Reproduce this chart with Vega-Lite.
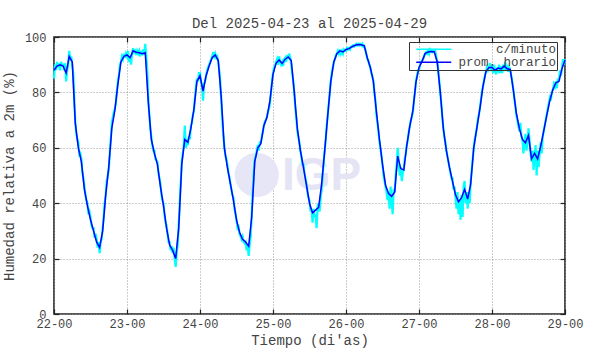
{
"$schema":"https://vega.github.io/schema/vega-lite/v6.json",
"width":511,"height":277,"autosize":"none",
"padding":{"left":54,"top":37,"right":25,"bottom":40},
"background":"white",
"title":{"text":"Del 2025-04-23 al 2025-04-29","font":"Liberation Mono","fontSize":14,"fontWeight":"normal","color":"#444","offset":10,"dy":21,"baseline":"alphabetic","frame":"group"},
"config":{"view":{"stroke":"#222","strokeWidth":1.6},"font":"Liberation Mono"},
"datasets":{
"logo":[{"t":"2025-04-24T18:40Z","v":50.2}],
"logotxt":[{"t":"2025-04-25T16:00Z","v":50}],
"hora":[
{"t":"2025-04-22T00:00Z","v":88},{"t":"2025-04-22T01:00Z","v":89.5},{"t":"2025-04-22T02:00Z","v":90},{"t":"2025-04-22T03:00Z","v":89.5},{"t":"2025-04-22T04:00Z","v":87},{"t":"2025-04-22T05:00Z","v":93},{"t":"2025-04-22T06:00Z","v":91},{"t":"2025-04-22T07:00Z","v":69},{"t":"2025-04-22T08:00Z","v":60},{"t":"2025-04-22T09:00Z","v":55},{"t":"2025-04-22T10:00Z","v":45},{"t":"2025-04-22T11:00Z","v":39},{"t":"2025-04-22T12:00Z","v":34},{"t":"2025-04-22T13:00Z","v":30},{"t":"2025-04-22T14:00Z","v":26},{"t":"2025-04-22T15:00Z","v":24},{"t":"2025-04-22T16:00Z","v":30},{"t":"2025-04-22T17:00Z","v":43},{"t":"2025-04-22T18:00Z","v":53},{"t":"2025-04-22T19:00Z","v":67},{"t":"2025-04-22T20:00Z","v":73.5},{"t":"2025-04-22T21:00Z","v":83},{"t":"2025-04-22T22:00Z","v":91},{"t":"2025-04-22T23:00Z","v":93},
{"t":"2025-04-23T00:00Z","v":93.5},{"t":"2025-04-23T01:00Z","v":92.5},{"t":"2025-04-23T02:00Z","v":95},{"t":"2025-04-23T03:00Z","v":94.5},{"t":"2025-04-23T04:00Z","v":94.3},{"t":"2025-04-23T05:00Z","v":94},{"t":"2025-04-23T06:00Z","v":94.3},{"t":"2025-04-23T07:00Z","v":76.5},{"t":"2025-04-23T08:00Z","v":63},{"t":"2025-04-23T09:00Z","v":58},{"t":"2025-04-23T10:00Z","v":54},{"t":"2025-04-23T11:00Z","v":46},{"t":"2025-04-23T12:00Z","v":39},{"t":"2025-04-23T13:00Z","v":31},{"t":"2025-04-23T14:00Z","v":25},{"t":"2025-04-23T15:00Z","v":23},{"t":"2025-04-23T16:00Z","v":20},{"t":"2025-04-23T17:00Z","v":31},{"t":"2025-04-23T18:00Z","v":54},{"t":"2025-04-23T19:00Z","v":63},{"t":"2025-04-23T20:00Z","v":62},{"t":"2025-04-23T21:00Z","v":67},{"t":"2025-04-23T22:00Z","v":74},{"t":"2025-04-23T23:00Z","v":84},
{"t":"2025-04-24T00:00Z","v":86},{"t":"2025-04-24T01:00Z","v":80.5},{"t":"2025-04-24T02:00Z","v":86},{"t":"2025-04-24T03:00Z","v":89.5},{"t":"2025-04-24T04:00Z","v":92.5},{"t":"2025-04-24T05:00Z","v":93.5},{"t":"2025-04-24T06:00Z","v":91.5},{"t":"2025-04-24T07:00Z","v":78},{"t":"2025-04-24T08:00Z","v":60},{"t":"2025-04-24T09:00Z","v":53},{"t":"2025-04-24T10:00Z","v":47},{"t":"2025-04-24T11:00Z","v":41},{"t":"2025-04-24T12:00Z","v":34},{"t":"2025-04-24T13:00Z","v":29.5},{"t":"2025-04-24T14:00Z","v":27},{"t":"2025-04-24T15:00Z","v":26},{"t":"2025-04-24T16:00Z","v":24.5},{"t":"2025-04-24T17:00Z","v":35},{"t":"2025-04-24T18:00Z","v":55},{"t":"2025-04-24T19:00Z","v":60},{"t":"2025-04-24T20:00Z","v":61.5},{"t":"2025-04-24T21:00Z","v":68},{"t":"2025-04-24T22:00Z","v":71},{"t":"2025-04-24T23:00Z","v":77},
{"t":"2025-04-25T00:00Z","v":86.5},{"t":"2025-04-25T01:00Z","v":90.5},{"t":"2025-04-25T02:00Z","v":91.7},{"t":"2025-04-25T03:00Z","v":90.4},{"t":"2025-04-25T04:00Z","v":92},{"t":"2025-04-25T05:00Z","v":92.8},{"t":"2025-04-25T06:00Z","v":91.5},{"t":"2025-04-25T07:00Z","v":80},{"t":"2025-04-25T08:00Z","v":67},{"t":"2025-04-25T09:00Z","v":59},{"t":"2025-04-25T10:00Z","v":53},{"t":"2025-04-25T11:00Z","v":46.5},{"t":"2025-04-25T12:00Z","v":40},{"t":"2025-04-25T13:00Z","v":36.5},{"t":"2025-04-25T14:00Z","v":37.5},{"t":"2025-04-25T15:00Z","v":38.5},{"t":"2025-04-25T16:00Z","v":47},{"t":"2025-04-25T17:00Z","v":59},{"t":"2025-04-25T18:00Z","v":71.7},{"t":"2025-04-25T19:00Z","v":84},{"t":"2025-04-25T20:00Z","v":91},{"t":"2025-04-25T21:00Z","v":94},{"t":"2025-04-25T22:00Z","v":95},{"t":"2025-04-25T23:00Z","v":94.6},
{"t":"2025-04-26T00:00Z","v":95.5},{"t":"2025-04-26T01:00Z","v":95.8},{"t":"2025-04-26T02:00Z","v":96.5},{"t":"2025-04-26T03:00Z","v":97},{"t":"2025-04-26T04:00Z","v":97.3},{"t":"2025-04-26T05:00Z","v":97.2},{"t":"2025-04-26T06:00Z","v":96.8},{"t":"2025-04-26T07:00Z","v":92.5},{"t":"2025-04-26T08:00Z","v":89},{"t":"2025-04-26T09:00Z","v":84},{"t":"2025-04-26T10:00Z","v":73},{"t":"2025-04-26T11:00Z","v":63},{"t":"2025-04-26T12:00Z","v":54},{"t":"2025-04-26T13:00Z","v":46.5},{"t":"2025-04-26T14:00Z","v":43.5},{"t":"2025-04-26T15:00Z","v":42.5},{"t":"2025-04-26T16:00Z","v":44},{"t":"2025-04-26T17:00Z","v":57},{"t":"2025-04-26T18:00Z","v":52.5},{"t":"2025-04-26T19:00Z","v":52},{"t":"2025-04-26T20:00Z","v":61},{"t":"2025-04-26T21:00Z","v":68},{"t":"2025-04-26T22:00Z","v":73.5},{"t":"2025-04-26T23:00Z","v":83.7},
{"t":"2025-04-27T00:00Z","v":89},{"t":"2025-04-27T01:00Z","v":91.2},{"t":"2025-04-27T02:00Z","v":94},{"t":"2025-04-27T03:00Z","v":94.6},{"t":"2025-04-27T04:00Z","v":94.8},{"t":"2025-04-27T05:00Z","v":94.7},{"t":"2025-04-27T06:00Z","v":91},{"t":"2025-04-27T07:00Z","v":80},{"t":"2025-04-27T08:00Z","v":67},{"t":"2025-04-27T09:00Z","v":59},{"t":"2025-04-27T10:00Z","v":53},{"t":"2025-04-27T11:00Z","v":48},{"t":"2025-04-27T12:00Z","v":43},{"t":"2025-04-27T13:00Z","v":40.5},{"t":"2025-04-27T14:00Z","v":42},{"t":"2025-04-27T15:00Z","v":45},{"t":"2025-04-27T16:00Z","v":41.5},{"t":"2025-04-27T17:00Z","v":47},{"t":"2025-04-27T18:00Z","v":60},{"t":"2025-04-27T19:00Z","v":67},{"t":"2025-04-27T20:00Z","v":74},{"t":"2025-04-27T21:00Z","v":82},{"t":"2025-04-27T22:00Z","v":87.5},{"t":"2025-04-27T23:00Z","v":89},
{"t":"2025-04-28T00:00Z","v":89},{"t":"2025-04-28T01:00Z","v":88},{"t":"2025-04-28T02:00Z","v":88.8},{"t":"2025-04-28T03:00Z","v":88.5},{"t":"2025-04-28T04:00Z","v":89.5},{"t":"2025-04-28T05:00Z","v":88.5},{"t":"2025-04-28T06:00Z","v":88.3},{"t":"2025-04-28T07:00Z","v":81},{"t":"2025-04-28T08:00Z","v":72.5},{"t":"2025-04-28T09:00Z","v":67},{"t":"2025-04-28T10:00Z","v":63},{"t":"2025-04-28T11:00Z","v":61.8},{"t":"2025-04-28T12:00Z","v":64.5},{"t":"2025-04-28T13:00Z","v":56},{"t":"2025-04-28T14:00Z","v":58},{"t":"2025-04-28T15:00Z","v":56},{"t":"2025-04-28T16:00Z","v":60.5},{"t":"2025-04-28T17:00Z","v":66},{"t":"2025-04-28T18:00Z","v":71.7},{"t":"2025-04-28T19:00Z","v":77},{"t":"2025-04-28T20:00Z","v":81},{"t":"2025-04-28T21:00Z","v":83.5},{"t":"2025-04-28T22:00Z","v":84},{"t":"2025-04-28T23:00Z","v":88.5},
{"t":"2025-04-29T00:00Z","v":91.7}
],
"minuto":[
{"t":"2025-04-22T00:00Z","v":85},{"t":"2025-04-22T00:20Z","v":90},{"t":"2025-04-22T00:40Z","v":88},{"t":"2025-04-22T01:00Z","v":91},{"t":"2025-04-22T01:20Z","v":89},{"t":"2025-04-22T01:40Z","v":90.5},{"t":"2025-04-22T02:00Z","v":88},{"t":"2025-04-22T02:20Z","v":91},{"t":"2025-04-22T02:40Z","v":90},{"t":"2025-04-22T03:00Z","v":90},{"t":"2025-04-22T03:20Z","v":88},{"t":"2025-04-22T03:40Z","v":90.5},{"t":"2025-04-22T04:00Z","v":84},{"t":"2025-04-22T04:20Z","v":88},{"t":"2025-04-22T04:40Z","v":90},{"t":"2025-04-22T05:00Z","v":95},{"t":"2025-04-22T05:20Z","v":91.5},{"t":"2025-04-22T05:40Z","v":93},{"t":"2025-04-22T06:00Z","v":90},{"t":"2025-04-22T06:20Z","v":87},{"t":"2025-04-22T06:40Z","v":78},{"t":"2025-04-22T07:00Z","v":69},{"t":"2025-04-22T07:20Z","v":65},{"t":"2025-04-22T07:40Z","v":63},{"t":"2025-04-22T08:00Z","v":62},{"t":"2025-04-22T08:20Z","v":57.5},{"t":"2025-04-22T08:40Z","v":58},{"t":"2025-04-22T09:00Z","v":56},{"t":"2025-04-22T09:20Z","v":51},{"t":"2025-04-22T09:40Z","v":49},{"t":"2025-04-22T10:00Z","v":46},{"t":"2025-04-22T10:20Z","v":43},{"t":"2025-04-22T10:40Z","v":41},{"t":"2025-04-22T11:00Z","v":40},{"t":"2025-04-22T11:20Z","v":36},{"t":"2025-04-22T11:40Z","v":37},{"t":"2025-04-22T12:00Z","v":35},{"t":"2025-04-22T12:20Z","v":32},{"t":"2025-04-22T12:40Z","v":31},{"t":"2025-04-22T13:00Z","v":31},{"t":"2025-04-22T13:20Z","v":27.5},{"t":"2025-04-22T13:40Z","v":29},{"t":"2025-04-22T14:00Z","v":27},{"t":"2025-04-22T14:20Z","v":24},{"t":"2025-04-22T14:40Z","v":26},{"t":"2025-04-22T15:00Z","v":22},{"t":"2025-04-22T15:20Z","v":26},{"t":"2025-04-22T15:40Z","v":27},{"t":"2025-04-22T16:00Z","v":31},{"t":"2025-04-22T16:20Z","v":35},{"t":"2025-04-22T16:40Z","v":40},{"t":"2025-04-22T17:00Z","v":43},{"t":"2025-04-22T17:20Z","v":48},{"t":"2025-04-22T17:40Z","v":50},{"t":"2025-04-22T18:00Z","v":52},{"t":"2025-04-22T18:20Z","v":58},{"t":"2025-04-22T18:40Z","v":63},{"t":"2025-04-22T19:00Z","v":69},{"t":"2025-04-22T19:20Z","v":71},{"t":"2025-04-22T19:40Z","v":73},{"t":"2025-04-22T20:00Z","v":74},{"t":"2025-04-22T20:20Z","v":76},{"t":"2025-04-22T20:40Z","v":80},{"t":"2025-04-22T21:00Z","v":84},{"t":"2025-04-22T21:20Z","v":86},{"t":"2025-04-22T21:40Z","v":90},{"t":"2025-04-22T22:00Z","v":91},{"t":"2025-04-22T22:20Z","v":93},{"t":"2025-04-22T22:40Z","v":92},{"t":"2025-04-22T23:00Z","v":94},{"t":"2025-04-22T23:20Z","v":92.5},{"t":"2025-04-22T23:40Z","v":94},
{"t":"2025-04-23T00:00Z","v":93},{"t":"2025-04-23T00:20Z","v":95},{"t":"2025-04-23T00:40Z","v":91},{"t":"2025-04-23T01:00Z","v":93},{"t":"2025-04-23T01:20Z","v":90},{"t":"2025-04-23T01:40Z","v":94},{"t":"2025-04-23T02:00Z","v":96},{"t":"2025-04-23T02:20Z","v":94.5},{"t":"2025-04-23T02:40Z","v":95},{"t":"2025-04-23T03:00Z","v":93.5},{"t":"2025-04-23T03:20Z","v":95},{"t":"2025-04-23T03:40Z","v":94},{"t":"2025-04-23T04:00Z","v":95},{"t":"2025-04-23T04:20Z","v":93},{"t":"2025-04-23T04:40Z","v":94.5},{"t":"2025-04-23T05:00Z","v":94},{"t":"2025-04-23T05:20Z","v":95.5},{"t":"2025-04-23T05:40Z","v":93.5},{"t":"2025-04-23T06:00Z","v":97.5},{"t":"2025-04-23T06:20Z","v":93},{"t":"2025-04-23T06:40Z","v":88},{"t":"2025-04-23T07:00Z","v":78},{"t":"2025-04-23T07:20Z","v":72},{"t":"2025-04-23T07:40Z","v":67},{"t":"2025-04-23T08:00Z","v":64},{"t":"2025-04-23T08:20Z","v":61},{"t":"2025-04-23T08:40Z","v":59},{"t":"2025-04-23T09:00Z","v":59},{"t":"2025-04-23T09:20Z","v":56},{"t":"2025-04-23T09:40Z","v":55.5},{"t":"2025-04-23T10:00Z","v":55},{"t":"2025-04-23T10:20Z","v":51},{"t":"2025-04-23T10:40Z","v":49},{"t":"2025-04-23T11:00Z","v":47},{"t":"2025-04-23T11:20Z","v":43},{"t":"2025-04-23T11:40Z","v":41},{"t":"2025-04-23T12:00Z","v":40},{"t":"2025-04-23T12:20Z","v":36},{"t":"2025-04-23T12:40Z","v":33},{"t":"2025-04-23T13:00Z","v":32},{"t":"2025-04-23T13:20Z","v":29},{"t":"2025-04-23T13:40Z","v":26},{"t":"2025-04-23T14:00Z","v":26},{"t":"2025-04-23T14:20Z","v":23},{"t":"2025-04-23T14:40Z","v":24.5},{"t":"2025-04-23T15:00Z","v":22},{"t":"2025-04-23T15:20Z","v":24},{"t":"2025-04-23T15:40Z","v":20},{"t":"2025-04-23T16:00Z","v":17},{"t":"2025-04-23T16:20Z","v":22},{"t":"2025-04-23T16:40Z","v":25},{"t":"2025-04-23T17:00Z","v":32},{"t":"2025-04-23T17:20Z","v":40},{"t":"2025-04-23T17:40Z","v":47},{"t":"2025-04-23T18:00Z","v":55},{"t":"2025-04-23T18:20Z","v":58},{"t":"2025-04-23T18:40Z","v":61},{"t":"2025-04-23T19:00Z","v":68},{"t":"2025-04-23T19:20Z","v":60},{"t":"2025-04-23T19:40Z","v":62},{"t":"2025-04-23T20:00Z","v":61},{"t":"2025-04-23T20:20Z","v":64},{"t":"2025-04-23T20:40Z","v":63},{"t":"2025-04-23T21:00Z","v":68},{"t":"2025-04-23T21:20Z","v":69},{"t":"2025-04-23T21:40Z","v":72},{"t":"2025-04-23T22:00Z","v":73},{"t":"2025-04-23T22:20Z","v":78},{"t":"2025-04-23T22:40Z","v":82},{"t":"2025-04-23T23:00Z","v":85},{"t":"2025-04-23T23:20Z","v":84},{"t":"2025-04-23T23:40Z","v":87},
{"t":"2025-04-24T00:00Z","v":87},{"t":"2025-04-24T00:20Z","v":84},{"t":"2025-04-24T00:40Z","v":82},{"t":"2025-04-24T01:00Z","v":77},{"t":"2025-04-24T01:20Z","v":83},{"t":"2025-04-24T01:40Z","v":84},{"t":"2025-04-24T02:00Z","v":86},{"t":"2025-04-24T02:20Z","v":88},{"t":"2025-04-24T02:40Z","v":89},{"t":"2025-04-24T03:00Z","v":90},{"t":"2025-04-24T03:20Z","v":91},{"t":"2025-04-24T03:40Z","v":92},{"t":"2025-04-24T04:00Z","v":93},{"t":"2025-04-24T04:20Z","v":94.5},{"t":"2025-04-24T04:40Z","v":93},{"t":"2025-04-24T05:00Z","v":94},{"t":"2025-04-24T05:20Z","v":92.5},{"t":"2025-04-24T05:40Z","v":93},{"t":"2025-04-24T06:00Z","v":91},{"t":"2025-04-24T06:20Z","v":88},{"t":"2025-04-24T06:40Z","v":84},{"t":"2025-04-24T07:00Z","v":77},{"t":"2025-04-24T07:20Z","v":70},{"t":"2025-04-24T07:40Z","v":64},{"t":"2025-04-24T08:00Z","v":61},{"t":"2025-04-24T08:20Z","v":57},{"t":"2025-04-24T08:40Z","v":56},{"t":"2025-04-24T09:00Z","v":54},{"t":"2025-04-24T09:20Z","v":51},{"t":"2025-04-24T09:40Z","v":49.5},{"t":"2025-04-24T10:00Z","v":47},{"t":"2025-04-24T10:20Z","v":45},{"t":"2025-04-24T10:40Z","v":43},{"t":"2025-04-24T11:00Z","v":42},{"t":"2025-04-24T11:20Z","v":38},{"t":"2025-04-24T11:40Z","v":36},{"t":"2025-04-24T12:00Z","v":34},{"t":"2025-04-24T12:20Z","v":31},{"t":"2025-04-24T12:40Z","v":31.5},{"t":"2025-04-24T13:00Z","v":29},{"t":"2025-04-24T13:20Z","v":28},{"t":"2025-04-24T13:40Z","v":27},{"t":"2025-04-24T14:00Z","v":28},{"t":"2025-04-24T14:20Z","v":26},{"t":"2025-04-24T14:40Z","v":25.5},{"t":"2025-04-24T15:00Z","v":26},{"t":"2025-04-24T15:20Z","v":23},{"t":"2025-04-24T15:40Z","v":25},{"t":"2025-04-24T16:00Z","v":21},{"t":"2025-04-24T16:20Z","v":25},{"t":"2025-04-24T16:40Z","v":28},{"t":"2025-04-24T17:00Z","v":36},{"t":"2025-04-24T17:20Z","v":44},{"t":"2025-04-24T17:40Z","v":51},{"t":"2025-04-24T18:00Z","v":56},{"t":"2025-04-24T18:20Z","v":57},{"t":"2025-04-24T18:40Z","v":59},{"t":"2025-04-24T19:00Z","v":61},{"t":"2025-04-24T19:20Z","v":59},{"t":"2025-04-24T19:40Z","v":62},{"t":"2025-04-24T20:00Z","v":62},{"t":"2025-04-24T20:20Z","v":64},{"t":"2025-04-24T20:40Z","v":66},{"t":"2025-04-24T21:00Z","v":68},{"t":"2025-04-24T21:20Z","v":69.5},{"t":"2025-04-24T21:40Z","v":70},{"t":"2025-04-24T22:00Z","v":71},{"t":"2025-04-24T22:20Z","v":73},{"t":"2025-04-24T22:40Z","v":74},{"t":"2025-04-24T23:00Z","v":76},{"t":"2025-04-24T23:20Z","v":80},{"t":"2025-04-24T23:40Z","v":84},
{"t":"2025-04-25T00:00Z","v":87},{"t":"2025-04-25T00:20Z","v":89},{"t":"2025-04-25T00:40Z","v":89.5},{"t":"2025-04-25T01:00Z","v":91},{"t":"2025-04-25T01:20Z","v":92},{"t":"2025-04-25T01:40Z","v":90},{"t":"2025-04-25T02:00Z","v":93},{"t":"2025-04-25T02:20Z","v":91},{"t":"2025-04-25T02:40Z","v":90},{"t":"2025-04-25T03:00Z","v":91},{"t":"2025-04-25T03:20Z","v":89.5},{"t":"2025-04-25T03:40Z","v":92},{"t":"2025-04-25T04:00Z","v":92.5},{"t":"2025-04-25T04:20Z","v":91},{"t":"2025-04-25T04:40Z","v":93.5},{"t":"2025-04-25T05:00Z","v":92},{"t":"2025-04-25T05:20Z","v":94},{"t":"2025-04-25T05:40Z","v":92.5},{"t":"2025-04-25T06:00Z","v":90},{"t":"2025-04-25T06:20Z","v":87},{"t":"2025-04-25T06:40Z","v":84},{"t":"2025-04-25T07:00Z","v":80},{"t":"2025-04-25T07:20Z","v":74},{"t":"2025-04-25T07:40Z","v":71},{"t":"2025-04-25T08:00Z","v":66},{"t":"2025-04-25T08:20Z","v":64},{"t":"2025-04-25T08:40Z","v":62},{"t":"2025-04-25T09:00Z","v":59},{"t":"2025-04-25T09:20Z","v":57},{"t":"2025-04-25T09:40Z","v":54},{"t":"2025-04-25T10:00Z","v":54},{"t":"2025-04-25T10:20Z","v":51},{"t":"2025-04-25T10:40Z","v":49},{"t":"2025-04-25T11:00Z","v":47},{"t":"2025-04-25T11:20Z","v":44},{"t":"2025-04-25T11:40Z","v":42},{"t":"2025-04-25T12:00Z","v":41},{"t":"2025-04-25T12:20Z","v":37},{"t":"2025-04-25T12:40Z","v":38},{"t":"2025-04-25T13:00Z","v":33},{"t":"2025-04-25T13:20Z","v":38},{"t":"2025-04-25T13:40Z","v":35},{"t":"2025-04-25T14:00Z","v":36},{"t":"2025-04-25T14:20Z","v":31},{"t":"2025-04-25T14:40Z","v":39},{"t":"2025-04-25T15:00Z","v":40},{"t":"2025-04-25T15:20Z","v":37},{"t":"2025-04-25T15:40Z","v":42},{"t":"2025-04-25T16:00Z","v":45},{"t":"2025-04-25T16:20Z","v":50},{"t":"2025-04-25T16:40Z","v":55},{"t":"2025-04-25T17:00Z","v":59},{"t":"2025-04-25T17:20Z","v":63},{"t":"2025-04-25T17:40Z","v":68},{"t":"2025-04-25T18:00Z","v":72},{"t":"2025-04-25T18:20Z","v":76},{"t":"2025-04-25T18:40Z","v":80},{"t":"2025-04-25T19:00Z","v":84},{"t":"2025-04-25T19:20Z","v":87},{"t":"2025-04-25T19:40Z","v":89},{"t":"2025-04-25T20:00Z","v":91},{"t":"2025-04-25T20:20Z","v":92},{"t":"2025-04-25T20:40Z","v":93.5},{"t":"2025-04-25T21:00Z","v":94},{"t":"2025-04-25T21:20Z","v":95},{"t":"2025-04-25T21:40Z","v":94},{"t":"2025-04-25T22:00Z","v":95.5},{"t":"2025-04-25T22:20Z","v":94},{"t":"2025-04-25T22:40Z","v":95},{"t":"2025-04-25T23:00Z","v":94},{"t":"2025-04-25T23:20Z","v":95.5},{"t":"2025-04-25T23:40Z","v":95},
{"t":"2025-04-26T00:00Z","v":95},{"t":"2025-04-26T00:20Z","v":96},{"t":"2025-04-26T00:40Z","v":95.5},{"t":"2025-04-26T01:00Z","v":96},{"t":"2025-04-26T01:20Z","v":95.5},{"t":"2025-04-26T01:40Z","v":96.5},{"t":"2025-04-26T02:00Z","v":96.5},{"t":"2025-04-26T02:20Z","v":97},{"t":"2025-04-26T02:40Z","v":96.5},{"t":"2025-04-26T03:00Z","v":97},{"t":"2025-04-26T03:20Z","v":97.5},{"t":"2025-04-26T03:40Z","v":97},{"t":"2025-04-26T04:00Z","v":97.5},{"t":"2025-04-26T04:20Z","v":97},{"t":"2025-04-26T04:40Z","v":97.5},{"t":"2025-04-26T05:00Z","v":97},{"t":"2025-04-26T05:20Z","v":97.5},{"t":"2025-04-26T05:40Z","v":96.5},{"t":"2025-04-26T06:00Z","v":96.8},{"t":"2025-04-26T06:20Z","v":95.5},{"t":"2025-04-26T06:40Z","v":94},{"t":"2025-04-26T07:00Z","v":92},{"t":"2025-04-26T07:20Z","v":91.5},{"t":"2025-04-26T07:40Z","v":90},{"t":"2025-04-26T08:00Z","v":89},{"t":"2025-04-26T08:20Z","v":87},{"t":"2025-04-26T08:40Z","v":86},{"t":"2025-04-26T09:00Z","v":84},{"t":"2025-04-26T09:20Z","v":80},{"t":"2025-04-26T09:40Z","v":77},{"t":"2025-04-26T10:00Z","v":72},{"t":"2025-04-26T10:20Z","v":69},{"t":"2025-04-26T10:40Z","v":66},{"t":"2025-04-26T11:00Z","v":62},{"t":"2025-04-26T11:20Z","v":60},{"t":"2025-04-26T11:40Z","v":57},{"t":"2025-04-26T12:00Z","v":54},{"t":"2025-04-26T12:20Z","v":50},{"t":"2025-04-26T12:40Z","v":48},{"t":"2025-04-26T13:00Z","v":46},{"t":"2025-04-26T13:20Z","v":44},{"t":"2025-04-26T13:40Z","v":41},{"t":"2025-04-26T14:00Z","v":44},{"t":"2025-04-26T14:20Z","v":38},{"t":"2025-04-26T14:40Z","v":46},{"t":"2025-04-26T15:00Z","v":41},{"t":"2025-04-26T15:20Z","v":36},{"t":"2025-04-26T15:40Z","v":45},{"t":"2025-04-26T16:00Z","v":44},{"t":"2025-04-26T16:20Z","v":50},{"t":"2025-04-26T16:40Z","v":54},{"t":"2025-04-26T17:00Z","v":60},{"t":"2025-04-26T17:20Z","v":55},{"t":"2025-04-26T17:40Z","v":50},{"t":"2025-04-26T18:00Z","v":53},{"t":"2025-04-26T18:20Z","v":48},{"t":"2025-04-26T18:40Z","v":51},{"t":"2025-04-26T19:00Z","v":52},{"t":"2025-04-26T19:20Z","v":56},{"t":"2025-04-26T19:40Z","v":58},{"t":"2025-04-26T20:00Z","v":61},{"t":"2025-04-26T20:20Z","v":63},{"t":"2025-04-26T20:40Z","v":66},{"t":"2025-04-26T21:00Z","v":68},{"t":"2025-04-26T21:20Z","v":70},{"t":"2025-04-26T21:40Z","v":71},{"t":"2025-04-26T22:00Z","v":73},{"t":"2025-04-26T22:20Z","v":77},{"t":"2025-04-26T22:40Z","v":80},{"t":"2025-04-26T23:00Z","v":84},{"t":"2025-04-26T23:20Z","v":86},{"t":"2025-04-26T23:40Z","v":88},
{"t":"2025-04-27T00:00Z","v":88},{"t":"2025-04-27T00:20Z","v":90},{"t":"2025-04-27T00:40Z","v":91},{"t":"2025-04-27T01:00Z","v":91.5},{"t":"2025-04-27T01:20Z","v":92},{"t":"2025-04-27T01:40Z","v":93},{"t":"2025-04-27T02:00Z","v":94},{"t":"2025-04-27T02:20Z","v":94.5},{"t":"2025-04-27T02:40Z","v":94},{"t":"2025-04-27T03:00Z","v":95},{"t":"2025-04-27T03:20Z","v":94},{"t":"2025-04-27T03:40Z","v":95.5},{"t":"2025-04-27T04:00Z","v":95},{"t":"2025-04-27T04:20Z","v":94.5},{"t":"2025-04-27T04:40Z","v":95},{"t":"2025-04-27T05:00Z","v":94.5},{"t":"2025-04-27T05:20Z","v":95},{"t":"2025-04-27T05:40Z","v":93},{"t":"2025-04-27T06:00Z","v":91},{"t":"2025-04-27T06:20Z","v":88},{"t":"2025-04-27T06:40Z","v":84},{"t":"2025-04-27T07:00Z","v":80},{"t":"2025-04-27T07:20Z","v":76},{"t":"2025-04-27T07:40Z","v":71},{"t":"2025-04-27T08:00Z","v":67},{"t":"2025-04-27T08:20Z","v":64},{"t":"2025-04-27T08:40Z","v":62},{"t":"2025-04-27T09:00Z","v":59},{"t":"2025-04-27T09:20Z","v":57},{"t":"2025-04-27T09:40Z","v":55},{"t":"2025-04-27T10:00Z","v":53},{"t":"2025-04-27T10:20Z","v":51},{"t":"2025-04-27T10:40Z","v":49},{"t":"2025-04-27T11:00Z","v":49},{"t":"2025-04-27T11:20Z","v":45},{"t":"2025-04-27T11:40Z","v":46},{"t":"2025-04-27T12:00Z","v":42},{"t":"2025-04-27T12:20Z","v":38},{"t":"2025-04-27T12:40Z","v":44},{"t":"2025-04-27T13:00Z","v":36},{"t":"2025-04-27T13:20Z","v":41},{"t":"2025-04-27T13:40Z","v":34},{"t":"2025-04-27T14:00Z","v":43},{"t":"2025-04-27T14:20Z","v":35},{"t":"2025-04-27T14:40Z","v":46},{"t":"2025-04-27T15:00Z","v":48},{"t":"2025-04-27T15:20Z","v":40},{"t":"2025-04-27T15:40Z","v":44},{"t":"2025-04-27T16:00Z","v":38},{"t":"2025-04-27T16:20Z","v":44},{"t":"2025-04-27T16:40Z","v":40},{"t":"2025-04-27T17:00Z","v":48},{"t":"2025-04-27T17:20Z","v":52},{"t":"2025-04-27T17:40Z","v":56},{"t":"2025-04-27T18:00Z","v":60},{"t":"2025-04-27T18:20Z","v":63},{"t":"2025-04-27T18:40Z","v":65},{"t":"2025-04-27T19:00Z","v":67},{"t":"2025-04-27T19:20Z","v":70},{"t":"2025-04-27T19:40Z","v":72},{"t":"2025-04-27T20:00Z","v":74},{"t":"2025-04-27T20:20Z","v":77},{"t":"2025-04-27T20:40Z","v":80},{"t":"2025-04-27T21:00Z","v":82},{"t":"2025-04-27T21:20Z","v":84},{"t":"2025-04-27T21:40Z","v":86},{"t":"2025-04-27T22:00Z","v":87.5},{"t":"2025-04-27T22:20Z","v":89},{"t":"2025-04-27T22:40Z","v":88},{"t":"2025-04-27T23:00Z","v":89},{"t":"2025-04-27T23:20Z","v":90.5},{"t":"2025-04-27T23:40Z","v":88.5},
{"t":"2025-04-28T00:00Z","v":89},{"t":"2025-04-28T00:20Z","v":87},{"t":"2025-04-28T00:40Z","v":90},{"t":"2025-04-28T01:00Z","v":88},{"t":"2025-04-28T01:20Z","v":86.5},{"t":"2025-04-28T01:40Z","v":89},{"t":"2025-04-28T02:00Z","v":88},{"t":"2025-04-28T02:20Z","v":90},{"t":"2025-04-28T02:40Z","v":87},{"t":"2025-04-28T03:00Z","v":89.5},{"t":"2025-04-28T03:20Z","v":87},{"t":"2025-04-28T03:40Z","v":90},{"t":"2025-04-28T04:00Z","v":89},{"t":"2025-04-28T04:20Z","v":91},{"t":"2025-04-28T04:40Z","v":88},{"t":"2025-04-28T05:00Z","v":89},{"t":"2025-04-28T05:20Z","v":87.5},{"t":"2025-04-28T05:40Z","v":89},{"t":"2025-04-28T06:00Z","v":88},{"t":"2025-04-28T06:20Z","v":86},{"t":"2025-04-28T06:40Z","v":84},{"t":"2025-04-28T07:00Z","v":81},{"t":"2025-04-28T07:20Z","v":78},{"t":"2025-04-28T07:40Z","v":75},{"t":"2025-04-28T08:00Z","v":72},{"t":"2025-04-28T08:20Z","v":70},{"t":"2025-04-28T08:40Z","v":68},{"t":"2025-04-28T09:00Z","v":66},{"t":"2025-04-28T09:20Z","v":69},{"t":"2025-04-28T09:40Z","v":64},{"t":"2025-04-28T10:00Z","v":63},{"t":"2025-04-28T10:20Z","v":58},{"t":"2025-04-28T10:40Z","v":62},{"t":"2025-04-28T11:00Z","v":65},{"t":"2025-04-28T11:20Z","v":59},{"t":"2025-04-28T11:40Z","v":62},{"t":"2025-04-28T12:00Z","v":67},{"t":"2025-04-28T12:20Z","v":63},{"t":"2025-04-28T12:40Z","v":58},{"t":"2025-04-28T13:00Z","v":55},{"t":"2025-04-28T13:20Z","v":59},{"t":"2025-04-28T13:40Z","v":52},{"t":"2025-04-28T14:00Z","v":57},{"t":"2025-04-28T14:20Z","v":61},{"t":"2025-04-28T14:40Z","v":50},{"t":"2025-04-28T15:00Z","v":59},{"t":"2025-04-28T15:20Z","v":53},{"t":"2025-04-28T15:40Z","v":58},{"t":"2025-04-28T16:00Z","v":62},{"t":"2025-04-28T16:20Z","v":58},{"t":"2025-04-28T16:40Z","v":64},{"t":"2025-04-28T17:00Z","v":66},{"t":"2025-04-28T17:20Z","v":68},{"t":"2025-04-28T17:40Z","v":70},{"t":"2025-04-28T18:00Z","v":72},{"t":"2025-04-28T18:20Z","v":74},{"t":"2025-04-28T18:40Z","v":76},{"t":"2025-04-28T19:00Z","v":78},{"t":"2025-04-28T19:20Z","v":77},{"t":"2025-04-28T19:40Z","v":80},{"t":"2025-04-28T20:00Z","v":81},{"t":"2025-04-28T20:20Z","v":83},{"t":"2025-04-28T20:40Z","v":82},{"t":"2025-04-28T21:00Z","v":84},{"t":"2025-04-28T21:20Z","v":81.5},{"t":"2025-04-28T21:40Z","v":85},{"t":"2025-04-28T22:00Z","v":84},{"t":"2025-04-28T22:20Z","v":88},{"t":"2025-04-28T22:40Z","v":86},{"t":"2025-04-28T23:00Z","v":89},{"t":"2025-04-28T23:20Z","v":92},{"t":"2025-04-28T23:40Z","v":90},
{"t":"2025-04-29T00:00Z","v":92}
]
},
"layer":[
{"data":{"name":"logo"},"mark":{"type":"point","filled":true,"size":1960,"color":"#e6e6f7","opacity":1},
 "encoding":{"x":{"field":"t","type":"temporal","axis":null,"scale":{"type":"utc","domain":[{"year":2025,"month":4,"date":22,"utc":true},{"year":2025,"month":4,"date":29,"utc":true}],"nice":false}},
 "y":{"field":"v","type":"quantitative","axis":null,"scale":{"domain":[0,100],"nice":false}}}},
{"data":{"name":"logotxt"},"mark":{"type":"text","text":"IGP","font":"Liberation Sans","fontSize":46,"fontWeight":"bold","color":"#e4e4f5","align":"center","baseline":"middle"},
 "encoding":{"x":{"field":"t","type":"temporal","axis":null},"y":{"field":"v","type":"quantitative","axis":null}}},
{"data":{"name":"minuto"},"mark":{"type":"line","strokeWidth":2.2,"interpolate":"linear"},
 "encoding":{
  "x":{"field":"t","type":"temporal","scale":{"type":"utc","domain":[{"year":2025,"month":4,"date":22,"utc":true},{"year":2025,"month":4,"date":29,"utc":true}],"nice":false},
   "axis":{"orient":"bottom","values":[{"year":2025,"month":4,"date":22,"utc":true},{"year":2025,"month":4,"date":23,"utc":true},{"year":2025,"month":4,"date":24,"utc":true},{"year":2025,"month":4,"date":25,"utc":true},{"year":2025,"month":4,"date":26,"utc":true},{"year":2025,"month":4,"date":27,"utc":true},{"year":2025,"month":4,"date":28,"utc":true},{"year":2025,"month":4,"date":29,"utc":true}],
   "labelExpr":"utcFormat(datum.value, '%d-%H')","title":"Tiempo (di'as)","grid":true,"gridDash":[1,2],"gridColor":"#999","gridWidth":1,"tickSize":-5,"tickColor":"#222","tickWidth":1.2,"domain":false,"labelPadding":9,"labelFlush":false,"labelOverlap":false,"labelFont":"Liberation Mono","labelFontSize":12,"labelColor":"#444","titleFont":"Liberation Mono","titleFontSize":14,"titleFontWeight":"normal","titleColor":"#444","titlePadding":4}},
  "y":{"field":"v","type":"quantitative","scale":{"domain":[0,100],"nice":false},
   "axis":{"orient":"left","values":[0,20,40,60,80,100],"title":"Humedad relativa a 2m (%)","grid":true,"gridDash":[1,2],"gridColor":"#999","gridWidth":1,"tickSize":-5,"tickColor":"#222","tickWidth":1.2,"domain":false,"labelPadding":13,"labelFont":"Liberation Mono","labelFontSize":12,"labelColor":"#444","titleFont":"Liberation Mono","titleFontSize":14,"titleFontWeight":"normal","titleColor":"#444","titlePadding":8}},
  "color":{"datum":"c/minuto","scale":{"domain":["c/minuto","prom. horario"],"range":["#00ffff","#0000ff"]},
   "legend":{"title":null,"orient":"none","legendX":355,"legendY":5,"padding":1,"strokeColor":"#333","symbolType":"M-3.5,0H3.5","symbolSize":100,"symbolStrokeWidth":1.5,"symbolOffset":17.5,"labelAlign":"right","labelOffset":116,"labelLimit":400,"labelFont":"Liberation Mono","labelFontSize":12.5,"labelColor":"#444","rowPadding":0}}
 }},
{"data":{"name":"hora"},"mark":{"type":"line","strokeWidth":1.5},
 "encoding":{
  "x":{"field":"t","type":"temporal","axis":{"orient":"top","values":[{"year":2025,"month":4,"date":22,"utc":true},{"year":2025,"month":4,"date":23,"utc":true},{"year":2025,"month":4,"date":24,"utc":true},{"year":2025,"month":4,"date":25,"utc":true},{"year":2025,"month":4,"date":26,"utc":true},{"year":2025,"month":4,"date":27,"utc":true},{"year":2025,"month":4,"date":28,"utc":true},{"year":2025,"month":4,"date":29,"utc":true}],"labels":false,"grid":false,"domain":false,"tickSize":-5,"tickColor":"#222","tickWidth":1.2,"title":null,"minExtent":0,"maxExtent":0}},
  "y":{"field":"v","type":"quantitative","axis":{"orient":"right","values":[0,20,40,60,80,100],"labels":false,"grid":false,"domain":false,"tickSize":-5,"tickColor":"#222","tickWidth":1.2,"title":null,"minExtent":0,"maxExtent":0}},
  "color":{"datum":"prom. horario"}
 }}
],
"resolve":{"axis":{"x":"independent","y":"independent"}}
}
